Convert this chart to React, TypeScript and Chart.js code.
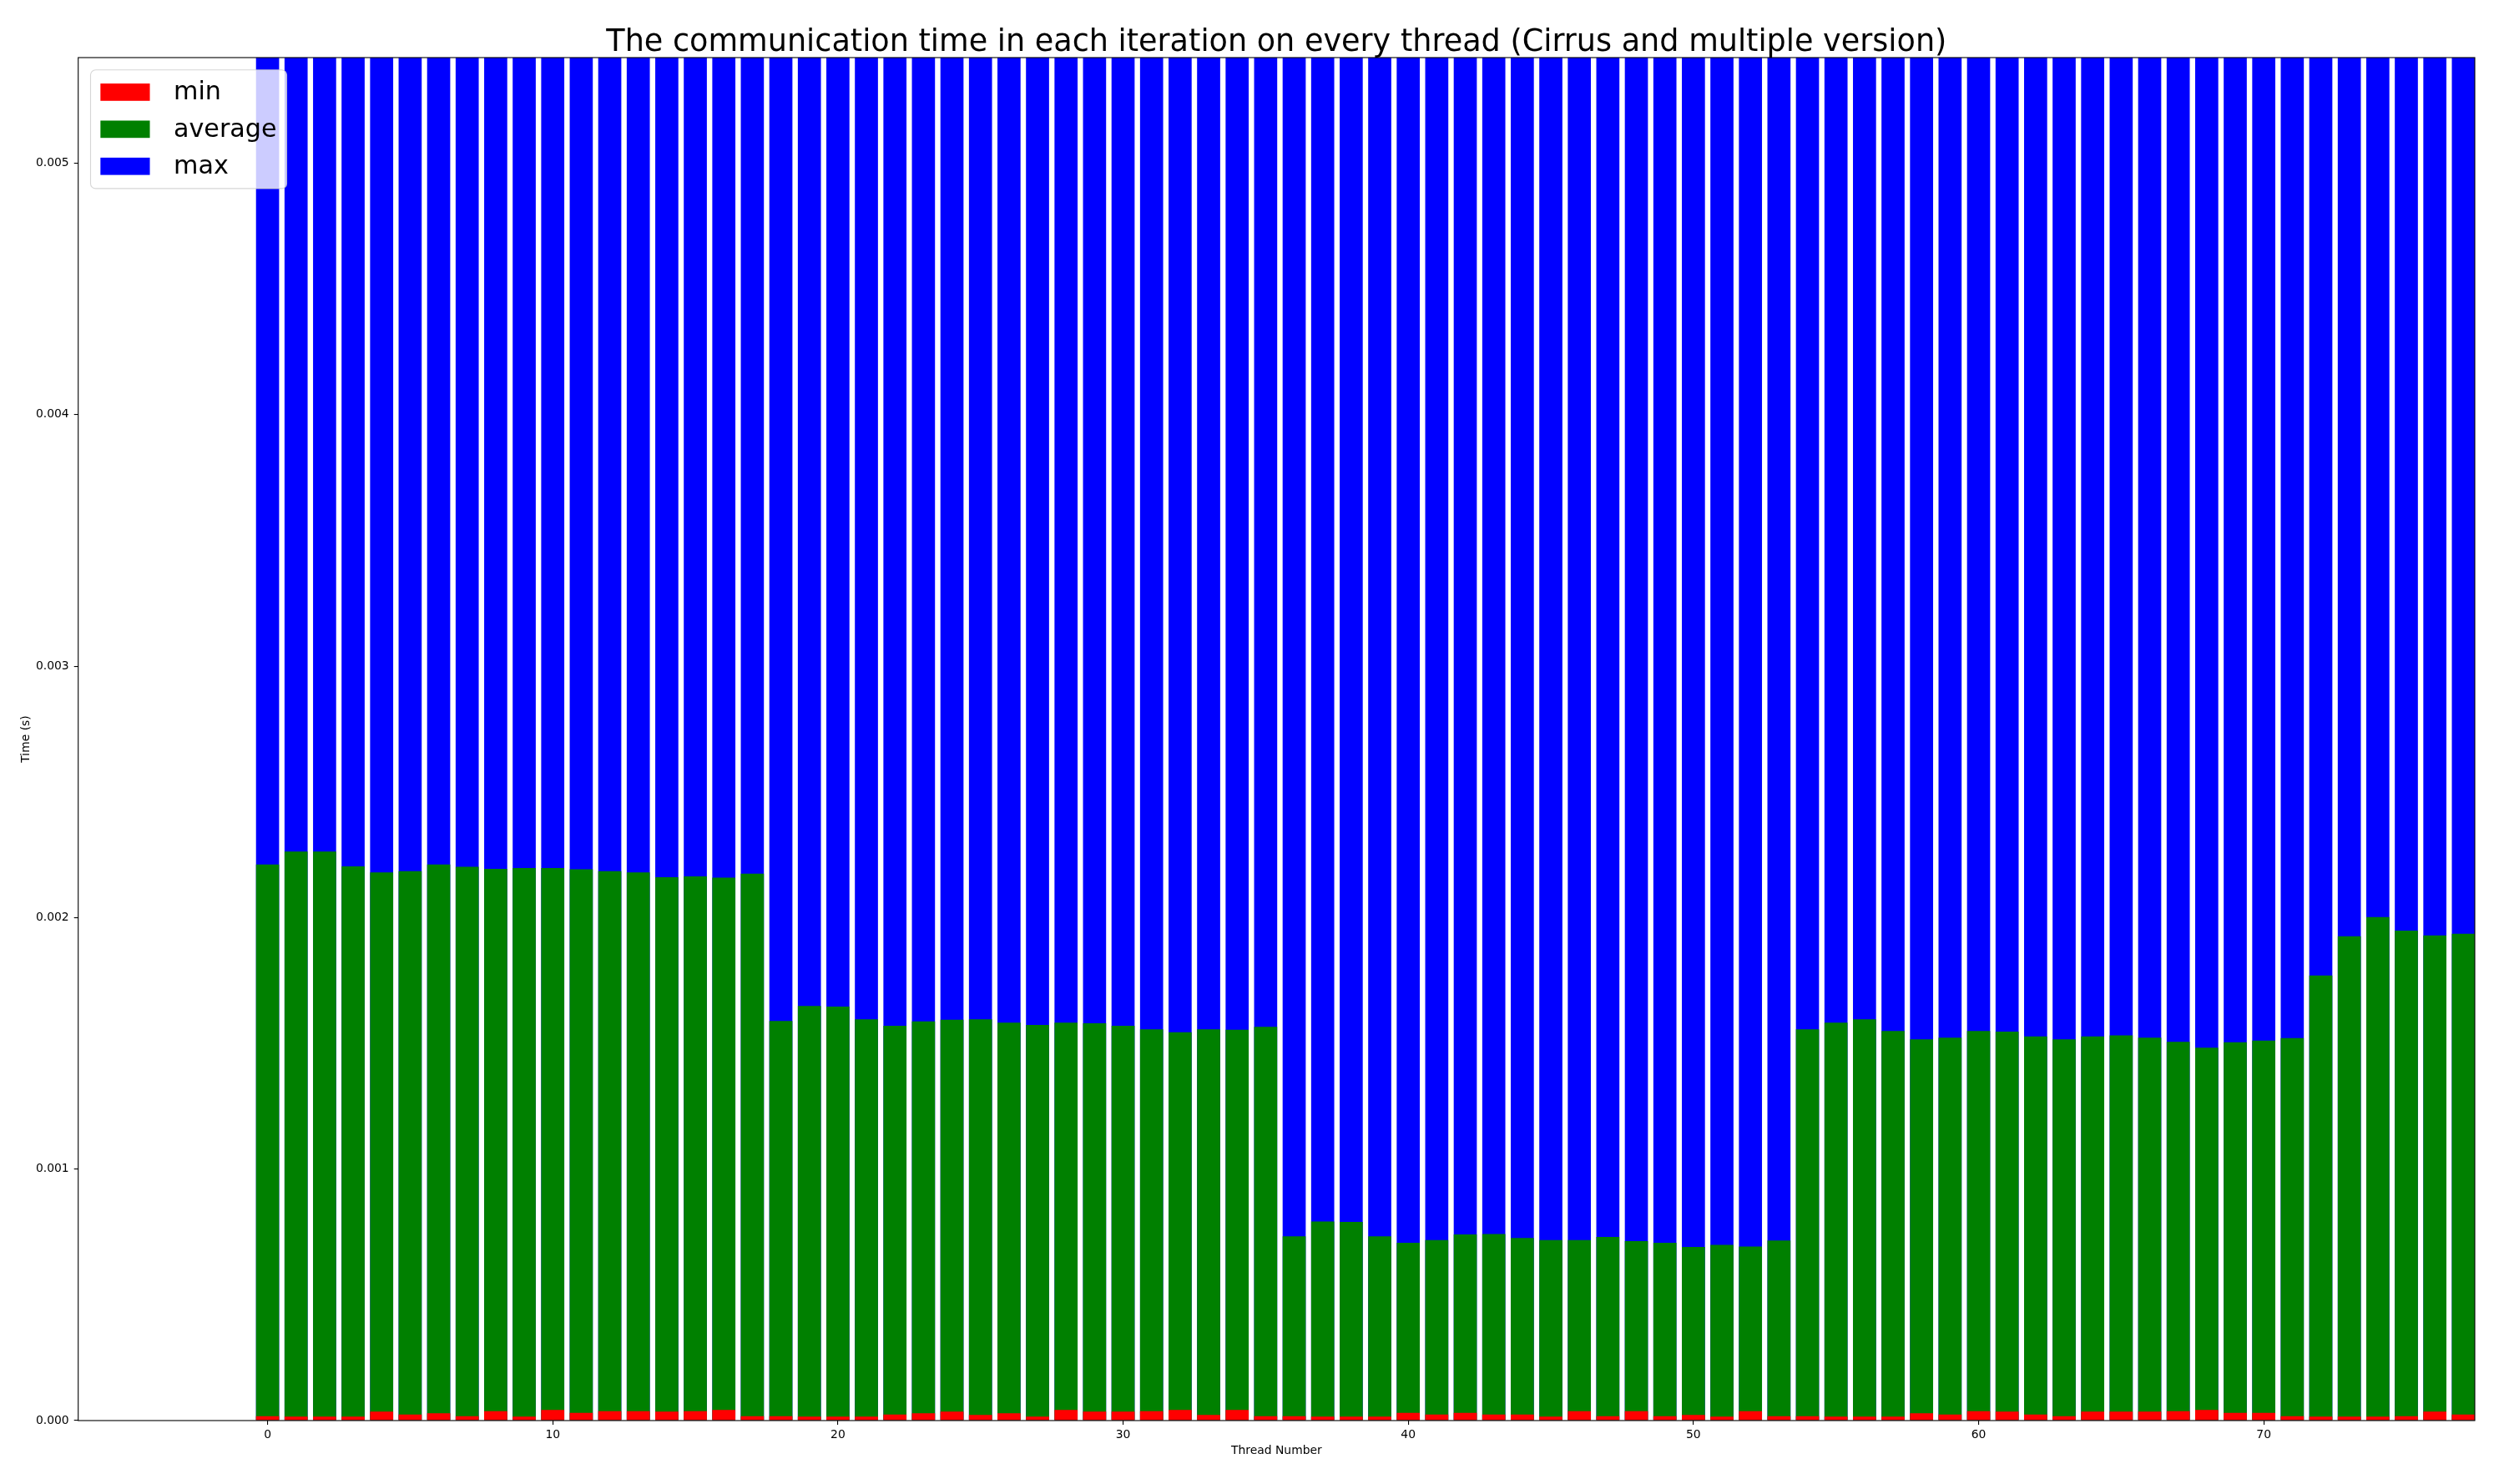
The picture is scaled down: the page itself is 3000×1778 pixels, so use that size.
import React, { useEffect, useRef } from "react";
import { Chart, registerables } from "chart.js";

Chart.register(...registerables);

const TITLE = "The communication time in each iteration on every thread (Cirrus and multiple version)";
const X_LABEL = "Thread Number";
const Y_LABEL = "Time (s)";
const SERIES_LABELS = ["min", "average", "max"];
const SERIES_COLORS = ["#ff0000", "#008000", "#0000ff"];

const threads: number[] = Array.from({ length: 78 }, (_, i) => i);

const minTimes: number[] = [
  1.76e-5, 1.54e-5, 1.54e-5, 1.54e-5, 3.53e-5, 2.43e-5, 2.87e-5, 1.76e-5, 3.75e-5, 1.54e-5,
  4.2e-5, 3.09e-5, 3.75e-5, 3.75e-5, 3.53e-5, 3.75e-5, 4.2e-5, 1.76e-5, 1.76e-5, 1.54e-5,
  1.54e-5, 1.54e-5, 2.43e-5, 2.87e-5, 3.53e-5, 2.2e-5, 2.87e-5, 1.54e-5, 4.2e-5, 3.53e-5,
  3.53e-5, 3.75e-5, 4.2e-5, 2.2e-5, 4.2e-5, 1.76e-5, 1.76e-5, 1.54e-5, 1.54e-5, 1.54e-5,
  3.09e-5, 2.43e-5, 3.09e-5, 2.43e-5, 2.43e-5, 1.54e-5, 3.75e-5, 1.76e-5, 3.75e-5, 1.76e-5,
  2.2e-5, 1.54e-5, 3.75e-5, 1.76e-5, 1.76e-5, 1.54e-5, 1.54e-5, 1.54e-5, 2.87e-5, 2.43e-5,
  3.75e-5, 3.53e-5, 2.43e-5, 1.76e-5, 3.53e-5, 3.53e-5, 3.53e-5, 3.75e-5, 4.2e-5, 3.09e-5,
  3.09e-5, 1.76e-5, 1.54e-5, 1.54e-5, 1.54e-5, 1.76e-5, 3.53e-5, 2.43e-5,
];

const avgTimes: number[] = [
  0.002211, 0.002263, 0.002263, 0.002204, 0.00218, 0.002185, 0.002211, 0.002202, 0.002194, 0.002197,
  0.002197, 0.002192, 0.002185, 0.00218, 0.002161, 0.002164, 0.002159, 0.002175, 0.001589, 0.001649,
  0.001646, 0.001596, 0.00157, 0.001587, 0.001594, 0.001596, 0.001582, 0.001573, 0.001582, 0.00158,
  0.00157, 0.001556, 0.001544, 0.001556, 0.001554, 0.001566, 0.000733, 0.000792, 0.00079, 0.000733,
  0.000707, 0.000718, 0.00074, 0.000742, 0.000726, 0.000718, 0.000718, 0.00073, 0.000714, 0.000707,
  0.00069, 0.000699, 0.000692, 0.000716, 0.001556, 0.001582, 0.001596, 0.001549, 0.001516, 0.001523,
  0.001549, 0.001547, 0.001528, 0.001516, 0.001528, 0.001532, 0.001523, 0.001506, 0.001483, 0.001504,
  0.001511, 0.001521, 0.00177, 0.001926, 0.002002, 0.001948, 0.001929, 0.001936,
];

// Max values run off the top of the plotted range; estimated as above the limit.
const maxTimes: number[] = [
  0.0062, 0.0061, 0.0063, 0.006, 0.0062, 0.0061, 0.0064, 0.006, 0.0062, 0.0061,
  0.0063, 0.006, 0.0062, 0.0061, 0.0063, 0.006, 0.0062, 0.0061, 0.0063, 0.006,
  0.0062, 0.0061, 0.0063, 0.006, 0.0062, 0.0061, 0.0063, 0.006, 0.0062, 0.0061,
  0.0063, 0.006, 0.0062, 0.0061, 0.0063, 0.006, 0.0062, 0.0061, 0.0063, 0.006,
  0.0062, 0.0061, 0.0063, 0.006, 0.0062, 0.0061, 0.0063, 0.006, 0.0062, 0.0061,
  0.0063, 0.006, 0.0062, 0.0061, 0.0063, 0.006, 0.0062, 0.0061, 0.0063, 0.006,
  0.0062, 0.0061, 0.0063, 0.006, 0.0062, 0.0061, 0.0063, 0.006, 0.0062, 0.0061,
  0.0063, 0.006, 0.0062, 0.0061, 0.0063, 0.006, 0.0062, 0.0061,
];

const xTickValues: number[] = [0, 10, 20, 30, 40, 50, 60, 70];
const yTickValues: number[] = [0, 0.001, 0.002, 0.003, 0.004, 0.005];
const yTickLabels: string[] = ["0.000", "0.001", "0.002", "0.003", "0.004", "0.005"];

const X_MIN = -6.64;
const X_MAX = 77.4;
const Y_MIN = 0;
const Y_MAX = 0.00542;

const FONT = "'DejaVu Sans', sans-serif";

const framePlugin = {
  id: "frame",
  afterDatasetsDraw(chart: any) {
    const { ctx, chartArea } = chart;
    ctx.save();
    ctx.strokeStyle = "#000";
    ctx.lineWidth = 1.1;
    ctx.strokeRect(chartArea.left, chartArea.top, chartArea.right - chartArea.left, chartArea.bottom - chartArea.top);
    ctx.restore();
  },
};

const titlePlugin = {
  id: "mplTitle",
  afterDraw(chart: any) {
    const { ctx, chartArea } = chart;
    ctx.save();
    ctx.fillStyle = "#000";
    ctx.font = `36.6px ${FONT}`;
    ctx.textAlign = "center";
    ctx.textBaseline = "alphabetic";
    ctx.fillText(TITLE, (chartArea.left + chartArea.right) / 2, chartArea.top - 8.5);
    ctx.restore();
  },
};

const legendPlugin = {
  id: "mplLegend",
  afterDraw(chart: any) {
    const { ctx, chartArea } = chart;
    const fs = 29.6;
    const x0 = chartArea.left + 0.5 * fs;
    const y0 = chartArea.top + 0.5 * fs;
    const w = 235;
    const h = 4.8 * fs;
    const r = 6;
    ctx.save();
    ctx.beginPath();
    ctx.moveTo(x0 + r, y0);
    ctx.lineTo(x0 + w - r, y0);
    ctx.arcTo(x0 + w, y0, x0 + w, y0 + r, r);
    ctx.lineTo(x0 + w, y0 + h - r);
    ctx.arcTo(x0 + w, y0 + h, x0 + w - r, y0 + h, r);
    ctx.lineTo(x0 + r, y0 + h);
    ctx.arcTo(x0, y0 + h, x0, y0 + h - r, r);
    ctx.lineTo(x0, y0 + r);
    ctx.arcTo(x0, y0, x0 + r, y0, r);
    ctx.closePath();
    ctx.fillStyle = "rgba(255,255,255,0.8)";
    ctx.fill();
    ctx.strokeStyle = "rgba(204,204,204,0.8)";
    ctx.lineWidth = 1.1;
    ctx.stroke();
    ctx.font = `30.2px ${FONT}`;
    ctx.textBaseline = "middle";
    ctx.textAlign = "left";
    chart.data.datasets.forEach((ds: any, i: number) => {
      const rowTop = y0 + 0.4 * fs + i * 1.5 * fs;
      const cy = rowTop + 0.5 * fs;
      ctx.fillStyle = ds.backgroundColor;
      ctx.fillRect(x0 + 0.4 * fs, cy - 0.35 * fs, 2 * fs, 0.7 * fs);
      ctx.fillStyle = "#000";
      ctx.fillText(ds.label, x0 + 99.5, cy + 1);
    });
    ctx.restore();
  },
};

export default function App() {
  const canvasRef = useRef<HTMLCanvasElement | null>(null);

  useEffect(() => {
    document.body.style.margin = "0";
    const canvas = canvasRef.current;
    if (!canvas) return;
    const series = [minTimes, avgTimes, maxTimes];
    const chart = new Chart(canvas, {
      type: "bar",
      data: {
        datasets: series.map((vals, si) => ({
          label: SERIES_LABELS[si],
          data: threads.map((t, i) => ({ x: t, y: vals[i] })),
          backgroundColor: SERIES_COLORS[si],
          borderWidth: 0,
          grouped: false,
          barPercentage: 0.81,
          categoryPercentage: 1.0,
        })),
      },
      options: {
        responsive: false,
        animation: false,
        devicePixelRatio: 1,
        layout: { padding: { top: 69, right: 35, left: 0, bottom: 0 } },
        plugins: {
          legend: { display: false },
          tooltip: { enabled: false },
          title: { display: false },
        },
        scales: {
          x: {
            type: "linear",
            offset: false,
            min: X_MIN,
            max: X_MAX,
            afterBuildTicks: (s: any) => {
              s.ticks = xTickValues.map((v) => ({ value: v }));
            },
            afterFit: (s: any) => {
              s.height = 76;
            },
            ticks: {
              color: "#000",
              font: { family: FONT, size: 13.9 },
              padding: 4,
              maxRotation: 0,
              autoSkip: false,
              callback: (v: any) => String(v),
            },
            grid: { offset: false, drawOnChartArea: false, drawTicks: true, tickLength: 5, color: "#000", lineWidth: 1.1 },
            border: { display: false },
            title: {
              display: true,
              text: X_LABEL,
              color: "#000",
              font: { family: FONT, size: 13.9 },
              padding: { top: 0, bottom: 31.7 },
            },
          },
          y: {
            type: "linear",
            min: Y_MIN,
            max: Y_MAX,
            afterBuildTicks: (s: any) => {
              s.ticks = yTickValues.map((v) => ({ value: v }));
            },
            afterFit: (s: any) => {
              s.width = 93.7;
            },
            ticks: {
              color: "#000",
              font: { family: FONT, size: 13.9 },
              padding: 6,
              autoSkip: false,
              callback: (_v: any, idx: number) => yTickLabels[idx],
            },
            grid: { drawOnChartArea: false, drawTicks: true, tickLength: 5, color: "#000", lineWidth: 1.1 },
            border: { display: false },
            title: {
              display: true,
              text: Y_LABEL,
              color: "#000",
              font: { family: FONT, size: 13.9 },
              padding: { top: 22.7, bottom: 0 },
            },
          },
        },
      } as any,
      plugins: [framePlugin, titlePlugin, legendPlugin],
    });
    return () => chart.destroy();
  }, []);

  return (
    <div style={{ width: 3000, height: 1778, background: "#fff" }}>
      <canvas ref={canvasRef} width={3000} height={1778} style={{ display: "block" }} />
    </div>
  );
}
